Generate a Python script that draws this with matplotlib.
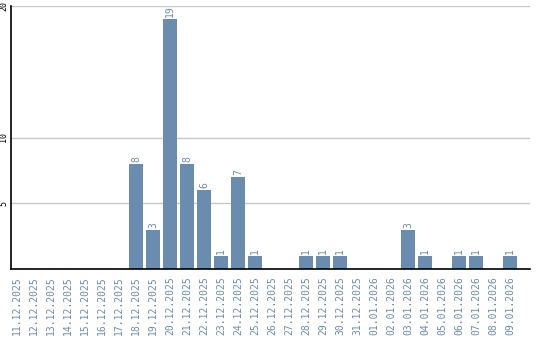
import matplotlib
matplotlib.use("Agg")
import matplotlib.pyplot as plt
import numpy as np

# data
dates = ["11.12.2025", "12.12.2025", "13.12.2025", "14.12.2025", "15.12.2025",
         "16.12.2025", "17.12.2025", "18.12.2025", "19.12.2025", "20.12.2025",
         "21.12.2025", "22.12.2025", "23.12.2025", "24.12.2025", "25.12.2025",
         "26.12.2025", "27.12.2025", "28.12.2025", "29.12.2025", "30.12.2025",
         "31.12.2025", "01.01.2026", "02.01.2026", "03.01.2026", "04.01.2026",
         "05.01.2026", "06.01.2026", "07.01.2026", "08.01.2026", "09.01.2026"]
counts = [0, 0, 0, 0, 0, 0, 0, 8, 3, 19,
          8, 6, 1, 7, 1, 0, 0, 1, 1, 1,
          0, 0, 0, 3, 1, 0, 1, 1, 0, 1]
yticks = [5, 10, 20]

bar_color = "#6a8caf"
font = "DejaVu Sans Mono"

fig = plt.figure(figsize=(5.4, 3.4), dpi=100)
ax = fig.add_axes([11 / 540, 71 / 340, 519 / 540, 263 / 340])

x = np.arange(len(dates))
bars = ax.bar(x, counts, width=14 / 17, color=bar_color, zorder=2)

for xi, v in zip(x, counts):
    if v > 0:
        ax.text(xi, v + 0.15, str(v), rotation=90, ha="center", va="bottom",
                color=bar_color, fontsize=7, family=font)

ax.set_xlim(-6 / 17, (530 - 17) / 17)
ax.set_ylim(0, 20)

ax.set_xticks(x)
ax.set_xticklabels(dates, rotation=90, color=bar_color, fontsize=7, family=font)
ax.set_yticks(yticks)
ax.set_yticklabels([str(t) for t in yticks], rotation=90, va="center",
                   fontsize=6, family=font, color="black")
ax.tick_params(axis="both", length=0)
ax.tick_params(axis="x", pad=5)
ax.tick_params(axis="y", pad=2)

ax.grid(axis="y", color="#c8c8c8", linewidth=1, zorder=0)
for s in ["top", "right"]:
    ax.spines[s].set_visible(False)
ax.spines["left"].set_color("black")
ax.spines["bottom"].set_color("black")
ax.spines["left"].set_linewidth(1.2)
ax.spines["bottom"].set_linewidth(1.2)

fig.savefig("out.png", dpi=100)
